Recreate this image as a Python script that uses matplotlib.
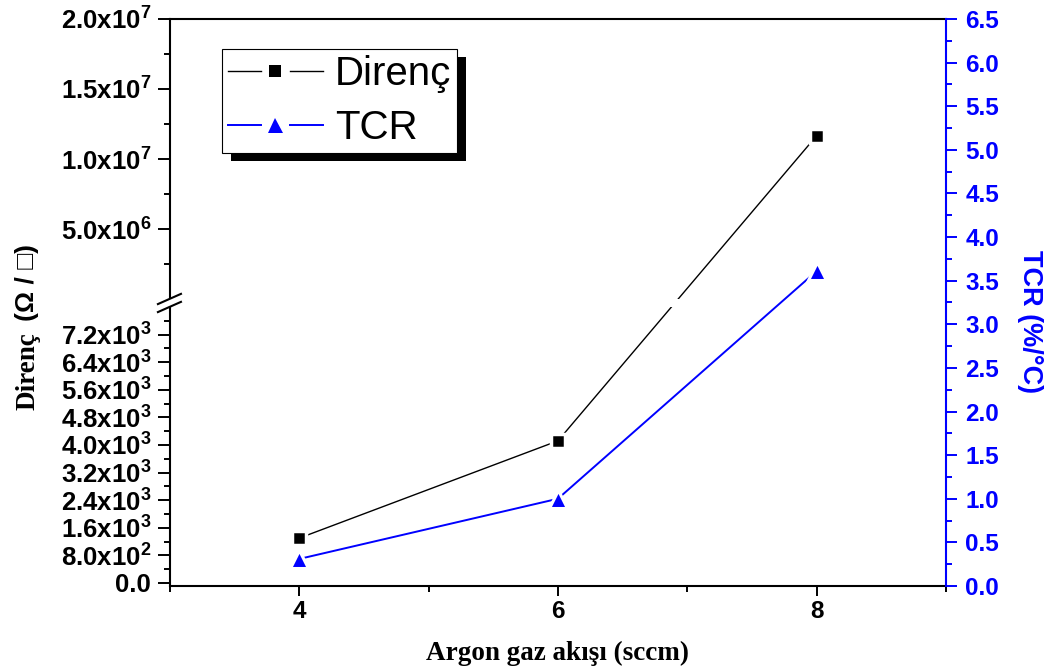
import numpy as np
import matplotlib
matplotlib.use('Agg')
import matplotlib.pyplot as plt
from matplotlib.lines import Line2D
from matplotlib.patches import Rectangle
from matplotlib.legend_handler import HandlerLine2D

plt.rcParams['font.family'] = ['Liberation Sans', 'DejaVu Sans']
plt.rcParams['mathtext.fontset'] = 'custom'
plt.rcParams['mathtext.rm'] = 'Liberation Sans:bold'
plt.rcParams['mathtext.it'] = 'Liberation Sans:bold'
plt.rcParams['mathtext.bf'] = 'Liberation Sans:bold'

# data
argon = [4, 6, 8]
direnc = [1.30e3, 4.12e3, 1.166e7]
tcr = [0.31, 1.00, 3.61]

# broken left axis ticks
direnc_ticks = [0, 800, 1600, 2400, 3200, 4000, 4800, 5600, 6400, 7200,
                5.0e6, 1.0e7, 1.5e7, 2.0e7]
direnc_labels = ['0.0', '8.0x10$^{2}$', '1.6x10$^{3}$', '2.4x10$^{3}$', '3.2x10$^{3}$',
                 '4.0x10$^{3}$', '4.8x10$^{3}$', '5.6x10$^{3}$', '6.4x10$^{3}$', '7.2x10$^{3}$',
                 '5.0x10$^{6}$', '1.0x10$^{7}$', '1.5x10$^{7}$', '2.0x10$^{7}$']
direnc_minor = [400, 1200, 2000, 2800, 3600, 4400, 5200, 6000, 6800, 7600,
                2.5e6, 7.5e6, 1.25e7, 1.75e7]
tcr_ticks = np.arange(0, 6.51, 0.5)
tcr_minor = np.arange(0.25, 6.5, 0.5)

# piecewise axis: lower part -87..8000, gap, upper part 8000..2e7 (heights in px)
LO_MIN, LO_MAX, UP_MAX = -87, 8000, 2.0e7
H_LO, H_GAP, H_UP = 279.0, 8.0, 280.0


def fwd(v):
    v = np.asarray(v, dtype=float)
    lo = (v - LO_MIN) / (LO_MAX - LO_MIN) * H_LO
    up = H_LO + H_GAP + (v - LO_MAX) / (UP_MAX - LO_MAX) * H_UP
    return np.where(v <= LO_MAX, lo, up)


def inv(t):
    t = np.asarray(t, dtype=float)
    lo = LO_MIN + t / H_LO * (LO_MAX - LO_MIN)
    up = LO_MAX + (t - H_LO - H_GAP) / H_UP * (UP_MAX - LO_MAX)
    return np.where(t <= H_LO, lo, np.where(t < H_LO + H_GAP, LO_MAX, up))


class GapLine(HandlerLine2D):
    # Origin style legend: line - marker - line
    def create_artists(self, legend, orig_handle, xdescent, ydescent,
                       width, height, fontsize, trans):
        ym = height / 2 - ydescent
        x0 = -xdescent
        l1 = Line2D([x0, x0 + 0.35 * width], [ym, ym])
        l2 = Line2D([x0 + 0.66 * width, x0 + width], [ym, ym])
        m = Line2D([x0 + 0.5 * width], [ym])
        for a in (l1, l2, m):
            self.update_prop(a, orig_handle, legend)
            a.set_transform(trans)
        l1.set_marker('None')
        l2.set_marker('None')
        m.set_linestyle('None')
        m.set_markersize(orig_handle.get_markersize() - orig_handle.get_markeredgewidth())
        m.set_markeredgewidth(0)
        return [l1, l2, m]


fig = plt.figure(figsize=(10.53, 6.68), dpi=100)
ax = fig.add_axes([0.1614, 0.1228, 0.7369, 0.8488])
ax2 = ax.twinx()

l_dir, = ax.plot(argon, direnc, '-s', color='black', lw=1.0, ms=10.5,
                 mfc='black', mec='white', mew=2.5, label='Direnç', zorder=3)
l_tcr, = ax2.plot(argon, tcr, '-^', color='#0000FF', lw=1.4, ms=13,
                  mfc='#0000FF', mec='white', mew=2.2, label='TCR', zorder=3)

ax.set_yscale('function', functions=(fwd, inv))
ax.set_ylim(LO_MIN, UP_MAX)
ax.set_yticks(direnc_ticks, direnc_labels)
ax.set_yticks(direnc_minor, minor=True)
ax.set_xlim(3, 9)
ax.set_xticks([4, 6, 8])
ax.set_xticks([3, 5, 7, 9], minor=True)

ax2.set_ylim(0, 6.5)
ax2.set_yticks(tcr_ticks, ['%.1f' % t for t in tcr_ticks])
ax2.set_yticks(tcr_minor, minor=True)

for s in ['left', 'top', 'bottom']:
    ax.spines[s].set_linewidth(1.5)
ax.spines['right'].set_visible(False)
for s in ['left', 'top', 'bottom']:
    ax2.spines[s].set_visible(False)
ax2.spines['right'].set_color('#0000FF')
ax2.spines['right'].set_linewidth(1.5)

ax.tick_params(axis='y', which='major', length=8.5, width=1.4, pad=5, labelsize=18.5)
ax.tick_params(axis='y', which='minor', length=4.3, width=1.4)
ax.tick_params(axis='x', which='major', length=7, width=1.4, pad=3, labelsize=17.5)
ax.tick_params(axis='x', which='minor', length=4.3, width=1.4)
ax2.tick_params(axis='y', which='major', length=8, width=1.4, pad=6, labelsize=17.5,
                color='#0000FF', labelcolor='#0000FF')
ax2.tick_params(axis='y', which='minor', length=4.3, width=1.4, color='#0000FF')
for lab in ax.get_xticklabels() + ax.get_yticklabels() + ax2.get_yticklabels():
    lab.set_fontweight('bold')

# break in the left axis
band_lo = H_LO / (H_LO + H_GAP + H_UP)
band_hi = (H_LO + H_GAP) / (H_LO + H_GAP + H_UP)
ax.add_patch(Rectangle((-0.01, band_lo), 1.01, band_hi - band_lo, transform=ax.transAxes,
                       facecolor='white', edgecolor='none', zorder=5, clip_on=False))
for yb in (band_lo, band_hi):
    ax.plot([-0.0155, 0.0142], [yb - 0.009, yb + 0.009], color='black', lw=1.5,
            transform=ax.transAxes, clip_on=False, zorder=6)

ax.set_xlabel('Argon gaz akışı (sccm)', family=['Liberation Serif', 'DejaVu Serif'],
              fontweight='bold', fontsize=19.5, labelpad=13)
fig.text(0.0323, (668 - 410) / 668, 'Direnç', family=['Liberation Serif', 'DejaVu Serif'],
         fontweight='bold', fontsize=19.5, rotation=90, rotation_mode='anchor',
         ha='left', va='baseline')
fig.text(0.0323, (668 - 244) / 668, '(Ω / □)', fontweight='bold', fontsize=19,
         rotation=90, rotation_mode='anchor', ha='right', va='baseline')
fig.text(1023 / 1053, (668 - 322) / 668, 'TCR (%/°C)', color='#0000FF', fontweight='bold',
         fontsize=19.5, rotation=270, rotation_mode='anchor', ha='center', va='baseline')

leg = ax.legend([l_dir, l_tcr], ['Direnç', 'TCR'], handler_map={Line2D: GapLine()},
                loc='upper left', bbox_to_anchor=(0.067, 0.947), borderaxespad=0,
                fontsize=29, fancybox=False, framealpha=1, edgecolor='black',
                handlelength=2.35, handletextpad=0.3, borderpad=0.15, labelspacing=0.4)
leg.get_frame().set_linewidth(0.8)
leg.set_zorder(10)

# black drop shadow under the legend
fig.canvas.draw()
bb = leg.get_window_extent().transformed(ax.transAxes.inverted())
dx, dy = 9 / (0.7369 * 1053), 8 / (0.8488 * 668)
ax.add_patch(Rectangle((bb.x0 + dx, bb.y0 - dy), bb.width, bb.height, transform=ax.transAxes,
                       facecolor='black', edgecolor='none', zorder=9, clip_on=False))

fig.savefig('out.png', dpi=100)
